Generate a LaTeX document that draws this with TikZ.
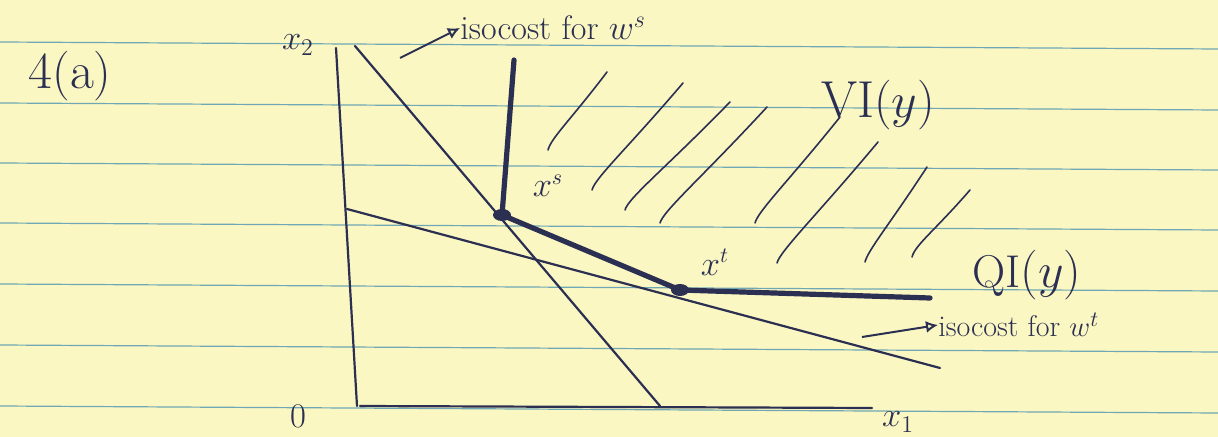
\documentclass[tikz,border=0pt]{standalone}
\usetikzlibrary{arrows.meta}
\definecolor{paper}{HTML}{FBF7C2}
\definecolor{rule}{HTML}{6FA7B5}
\definecolor{ink}{HTML}{2B2F52}
\begin{document}
\begin{tikzpicture}[x=0.5pt,y=-0.5pt,
  ink line/.style={draw=ink,line width=1.1pt,line cap=round},
  thick ink/.style={draw=ink,line width=2.6pt,line cap=round,line join=round},
  hatch/.style={draw=ink,line width=0.8pt,line cap=round},
  label/.style={text=ink,inner sep=0pt},
  pointer/.style={draw=ink,line width=1pt,-{Latex[open,length=6pt,width=6pt]}}]
% paper
\fill[paper] (0,0) rectangle (1218,437);
\useasboundingbox (0,0) rectangle (1218,437);
\foreach \yy in {42,103,163,223,284,345,406}
  \draw[rule,line width=0.6pt] (0,\yy) -- (1218,\yy+7);
% axes
\coordinate (O) at (357,406);
\coordinate (Ytop) at (336,48);
\coordinate (Xend) at (872,408);
\draw[ink line] (Ytop) -- (O);
\draw[ink line] (360,406) -- (Xend);
\node[label,font=\fontsize{19}{21}\selectfont] (zero) at (298,416) {$0$};
\node[label,font=\fontsize{17}{19}\selectfont] (x2lab) at (298,45) {$x_2$};
\node[label,font=\fontsize{17}{19}\selectfont] (x1lab) at (898,422) {$x_1$};
\node[label,font=\fontsize{26}{28}\selectfont] (title) at (70,76) {4$($a$)$};
% isocost lines
\coordinate (S1) at (355,46);
\coordinate (S2) at (660,406);
\draw[ink line] (S1) -- (S2);
\coordinate (T1) at (347,209);
\coordinate (T2) at (940,368);
\draw[ink line] (T1) -- (T2);
% isoquant
\coordinate (top) at (514,60);
\coordinate (xs) at (502,215);
\coordinate (xt) at (680,290);
\coordinate (rend) at (930,298);
\draw[thick ink] (top) -- (xs) -- (xt) -- (rend);
\fill[ink] (xs) ellipse (9 and 6);
\fill[ink] (xt) ellipse (9 and 6);
\node[label,font=\fontsize{16}{18}\selectfont] (xslab) at (548,186) {$x^s$};
\node[label,font=\fontsize{16}{18}\selectfont] (xtlab) at (715,262) {$x^t$};
% hatching
\foreach \ax/\ay/\bx/\by in {607/72/548/150, 683/83/592/190, 730/102/625/210, 767/107/660/223,
  840/117/755/223, 878/142/777/263, 927/167/865/262, 970/190/912/257}
  \draw[hatch] (\ax,\ay) .. controls ({0.4*\ax+0.6*\bx},{0.4*\ay+0.6*\by}) and ({\bx+3},{\by-12}) .. (\bx,\by);
% labels
\node[label,font=\fontsize{26}{28}\selectfont] (V) at (878,105) {VI$(y)$};
\node[label,font=\fontsize{23}{25}\selectfont] (Q) at (1027,275) {QI$(y)$};
\node[label,font=\fontsize{17}{19}\selectfont,anchor=west] (isos) at (460,28) {isocost for $w^s$};
\node[label,font=\fontsize{15}{17}\selectfont,anchor=west] (isot) at (938,325) {isocost for $w^t$};
\coordinate (ps) at (400,58);
\coordinate (pt) at (862,337);
\draw[pointer] (ps) -- (isos.west);
\draw[pointer] (pt) -- (isot.west);
\end{tikzpicture}
\end{document}
